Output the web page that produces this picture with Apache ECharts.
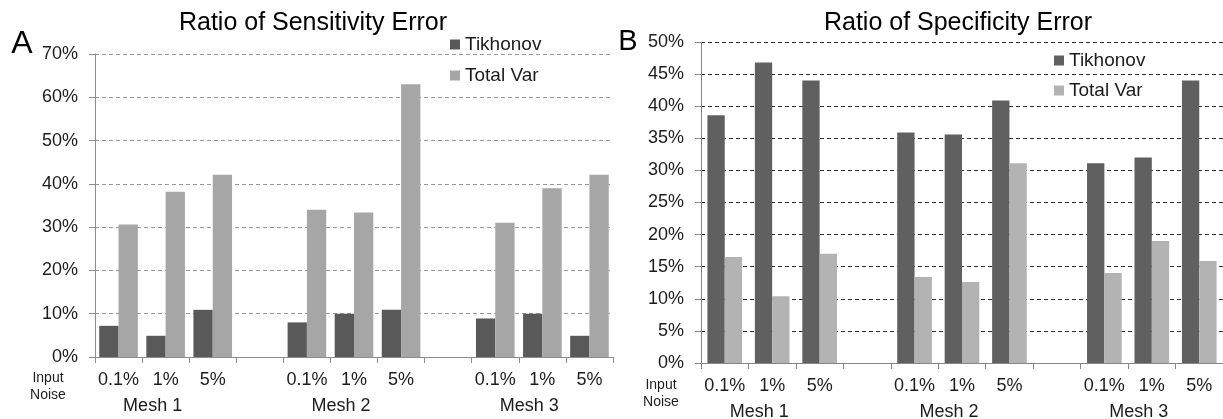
<!DOCTYPE html>
<html>
<head>
<meta charset="utf-8">
<title>Ratio of Sensitivity / Specificity Error</title>
<script src="https://cdn.jsdelivr.net/npm/echarts@6.0.0/dist/echarts.min.js"></script>
<style>
    html, body { margin: 0; padding: 0; background: #fff; }
    #chart { width: 1223px; height: 419px; }
</style>
</head>
<body>
<div id="chart"></div>
<script>
// data (percent), 3 noise levels per mesh
const noiseLevels = ['0.1%', '1%', '5%'];
const meshNames = ['Mesh 1', 'Mesh 2', 'Mesh 3'];
const seriesNames = ['Tikhonov', 'Total Var'];

const sensTikhonov = [7.2, 4.9, 10.9, 8.0, 10.0, 10.9, 8.9, 10.0, 4.9];
const sensTotalVar = [30.6, 38.2, 42.1, 34.0, 33.4, 63.0, 31.0, 39.0, 42.1];
const specTikhonov = [38.6, 46.8, 44.0, 35.9, 35.6, 40.9, 31.1, 32.0, 44.0];
const specTotalVar = [16.5, 10.4, 17.0, 13.4, 12.6, 31.1, 14.0, 19.0, 15.9];

const sensMax = 70, sensStep = 10;
const specMax = 50, specStep = 5;

const FONT = '"Liberation Sans", Arial, sans-serif';
const TEXT = '#1c1c1c';

// put an empty slot between the meshes
const withGaps = (values) => {
    let out = [];
    meshNames.forEach((m, i) => {
        if (i > 0) out.push(null);
        out.push(...values.slice(i * 3, i * 3 + 3));
    });
    return out;
};
const categories = meshNames.flatMap((m, i) => i > 0 ? [''].concat(noiseLevels) : noiseLevels);
const meshRow = meshNames.flatMap((m, i) => (i > 0 ? [''] : []).concat(['', m, '']));

const noiseAxis = (gridIndex, axisColor) => ({
    type: 'category',
    gridIndex: gridIndex,
    position: 'bottom',
    data: categories,
    axisLine: { lineStyle: { color: axisColor } },
    axisTick: { show: true, interval: 0, length: 6, lineStyle: { color: axisColor } },
    axisLabel: { interval: 0, margin: 14, fontSize: 18, color: TEXT, fontFamily: FONT },
    splitLine: { show: false }
});
const meshAxis = (gridIndex) => ({
    type: 'category',
    gridIndex: gridIndex,
    position: 'bottom',
    data: meshRow,
    axisLine: { show: false },
    axisTick: { show: false },
    axisLabel: { interval: 0, margin: 40, fontSize: 18, color: TEXT, fontFamily: FONT, padding: [0, 26, 0, 0] },
    splitLine: { show: false }
});
const valueAxis = (gridIndex, max, step, axisColor, gridColor) => ({
    type: 'value',
    gridIndex: gridIndex,
    min: 0,
    max: max,
    interval: step,
    axisLine: { show: true, lineStyle: { color: axisColor } },
    axisTick: { show: true, length: 6, lineStyle: { color: axisColor } },
    axisLabel: { formatter: '{value}%', margin: 17, fontSize: 18, color: TEXT, fontFamily: FONT },
    splitLine: { show: true, lineStyle: { type: [4, 3], color: gridColor, width: 1 } }
});
const titleStyle = (size) => ({ fontSize: size, fontWeight: 'normal', color: '#000', fontFamily: FONT });

let option = {
    animation: false,
    backgroundColor: '#fff',
    title: [
        { text: 'Ratio of Sensitivity Error', left: 313, top: 11, textAlign: 'center', padding: 0, textStyle: titleStyle(25) },
        { text: 'Ratio of Specificity Error', left: 958, top: 11, textAlign: 'center', padding: 0, textStyle: titleStyle(25) },
        { text: 'A', left: 22, top: 28, textAlign: 'center', padding: 0, textStyle: titleStyle(32) },
        { text: 'B', left: 628, top: 27, textAlign: 'center', padding: 0, textStyle: titleStyle(29) },
        { text: 'Input\nNoise', left: 48, top: 370, textAlign: 'center', padding: 0,
          textStyle: { fontSize: 14, lineHeight: 17, fontWeight: 'normal', color: TEXT, fontFamily: FONT } },
        { text: 'Input\nNoise', left: 661, top: 377, textAlign: 'center', padding: 0,
          textStyle: { fontSize: 14, lineHeight: 17, fontWeight: 'normal', color: TEXT, fontFamily: FONT } }
    ],
    legend: [{
        data: [
            { name: seriesNames[0], itemStyle: { color: '#595959' } },
            { name: seriesNames[1], itemStyle: { color: '#a6a6a6' } }
        ],
        orient: 'vertical', left: 450, top: 35, padding: 0,
        icon: 'rect', itemWidth: 10, itemHeight: 10, itemGap: 12,
        selectedMode: false,
        textStyle: { fontSize: 19, color: TEXT, fontFamily: FONT }
    }, {
        data: [
            { name: seriesNames[0], itemStyle: { color: '#606060' } },
            { name: seriesNames[1], itemStyle: { color: '#b3b3b3' } }
        ],
        orient: 'vertical', left: 1054, top: 51, padding: 0,
        icon: 'rect', itemWidth: 10, itemHeight: 10, itemGap: 11,
        selectedMode: false,
        textStyle: { fontSize: 19, color: TEXT, fontFamily: FONT }
    }],
    grid: [
        { left: 95, right: 610, top: 54, bottom: 62, outerBoundsMode: 'none' },
        { left: 701, right: 0, top: 42, bottom: 56, outerBoundsMode: 'none' }
    ],
    xAxis: [noiseAxis(0, '#8c8c8c'), meshAxis(0), noiseAxis(1, '#868686'), meshAxis(1)],
    yAxis: [
        valueAxis(0, sensMax, sensStep, '#8c8c8c', '#9a9a9a'),
        valueAxis(1, specMax, specStep, '#868686', '#2e2e2e')
    ],
    series: [{
        name: seriesNames[0], type: 'bar', xAxisIndex: 0, yAxisIndex: 0,
        data: withGaps(sensTikhonov),
        itemStyle: { color: '#595959' },
        barGap: '0%', barCategoryGap: '18%'
    }, {
        name: seriesNames[1], type: 'bar', xAxisIndex: 0, yAxisIndex: 0,
        data: withGaps(sensTotalVar),
        itemStyle: { color: '#a6a6a6' },
        barGap: '0%', barCategoryGap: '18%'
    }, {
        name: seriesNames[0], type: 'bar', xAxisIndex: 2, yAxisIndex: 1,
        data: withGaps(specTikhonov),
        itemStyle: { color: '#606060' },
        barGap: '0%', barCategoryGap: '27%'
    }, {
        name: seriesNames[1], type: 'bar', xAxisIndex: 2, yAxisIndex: 1,
        data: withGaps(specTotalVar),
        itemStyle: { color: '#b3b3b3' },
        barGap: '0%', barCategoryGap: '27%'
    }]
};

let chart = echarts.init(document.getElementById('chart'));
chart.setOption(option);
</script>
</body>
</html>
